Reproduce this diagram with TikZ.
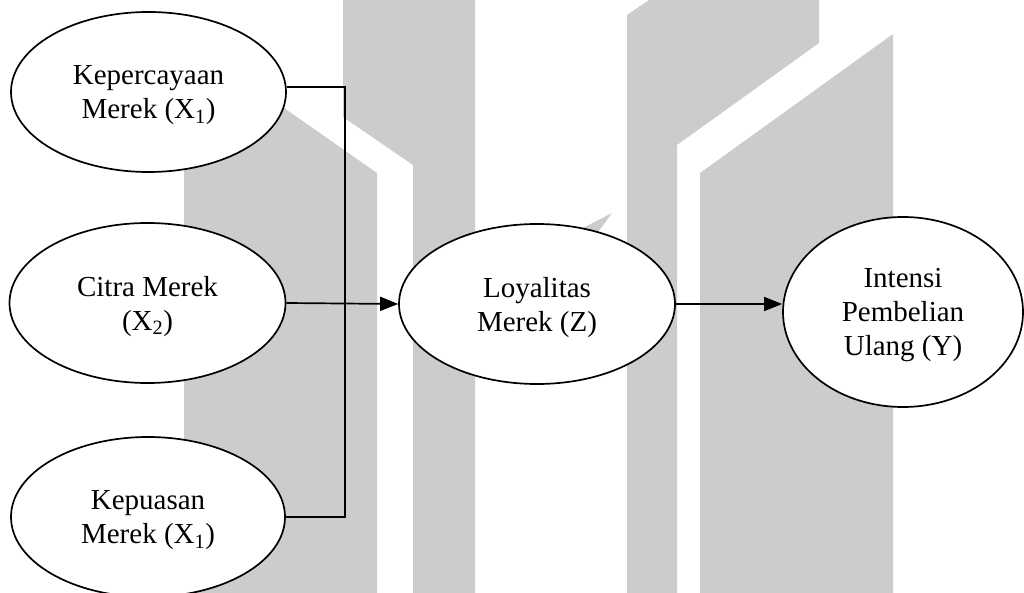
\documentclass[tikz,border=0pt]{standalone}
\usepackage{fontspec}
\setmainfont{Liberation Serif}
\usetikzlibrary{shapes.geometric,arrows.meta,calc}

\definecolor{wmgray}{HTML}{CCCCCC}

\tikzset{
  construct/.style={ellipse, draw, line width=1.7pt, fill=white, inner sep=0pt,
    align=center, text depth=-4pt, font=\fontsize{29}{34}\selectfont},
  link/.style={line width=1.7pt},
  flow/.style={link, -{Triangle[length=18pt,width=14pt]}},
  mark shape/.style={fill=wmgray, draw=none}
}

\begin{document}
\begin{tikzpicture}[x=1pt, y=-1pt]
  \useasboundingbox (0,0) rectangle (1024,593);

  % background emblem
  \fill[mark shape] (184,38) -- (377,173) -- (377,593) -- (184,593) -- cycle;
  \fill[mark shape] (343,0) -- (475,0) -- (475,593) -- (413,593) -- (413,165) -- (343,117) -- cycle;
  \fill[mark shape] (627,15) -- (649,0) -- (819,0) -- (819,43) -- (677,145) -- (677,593) -- (627,593) -- cycle;
  \fill[mark shape] (700,173) -- (893,34) -- (893,593) -- (700,593) -- cycle;
  \fill[mark shape] (612,213) -- (585,250) -- (540,250) -- cycle;

  % constructs
  \node[construct, minimum width=275pt, minimum height=160pt] (x1) at (148.5,92)
    {Kepercayaan\\Merek (X\textsubscript{1})};
  \node[construct, minimum width=276pt, minimum height=160pt] (x2) at (147.5,303)
    {Citra Merek\\(X\textsubscript{2})};
  \node[construct, minimum width=274pt, minimum height=160pt] (x3) at (148,517)
    {Kepuasan\\Merek (X\textsubscript{1})};
  \node[construct, minimum width=276pt, minimum height=160pt] (z) at (537,304)
    {Loyalitas\\Merek (Z)};
  \node[construct, minimum width=240pt, minimum height=190pt] (y) at (903,312)
    {Intensi\\Pembelian\\Ulang (Y)};

  % paths
  \coordinate (bus) at (345,517);
  \draw[link] (x1.2) -| (bus) -- (x3.east);
  \draw[flow] (x2.east) -- (z.west);
  \draw[flow] (z.east) -- (z.east -| y.west);
\end{tikzpicture}
\end{document}
